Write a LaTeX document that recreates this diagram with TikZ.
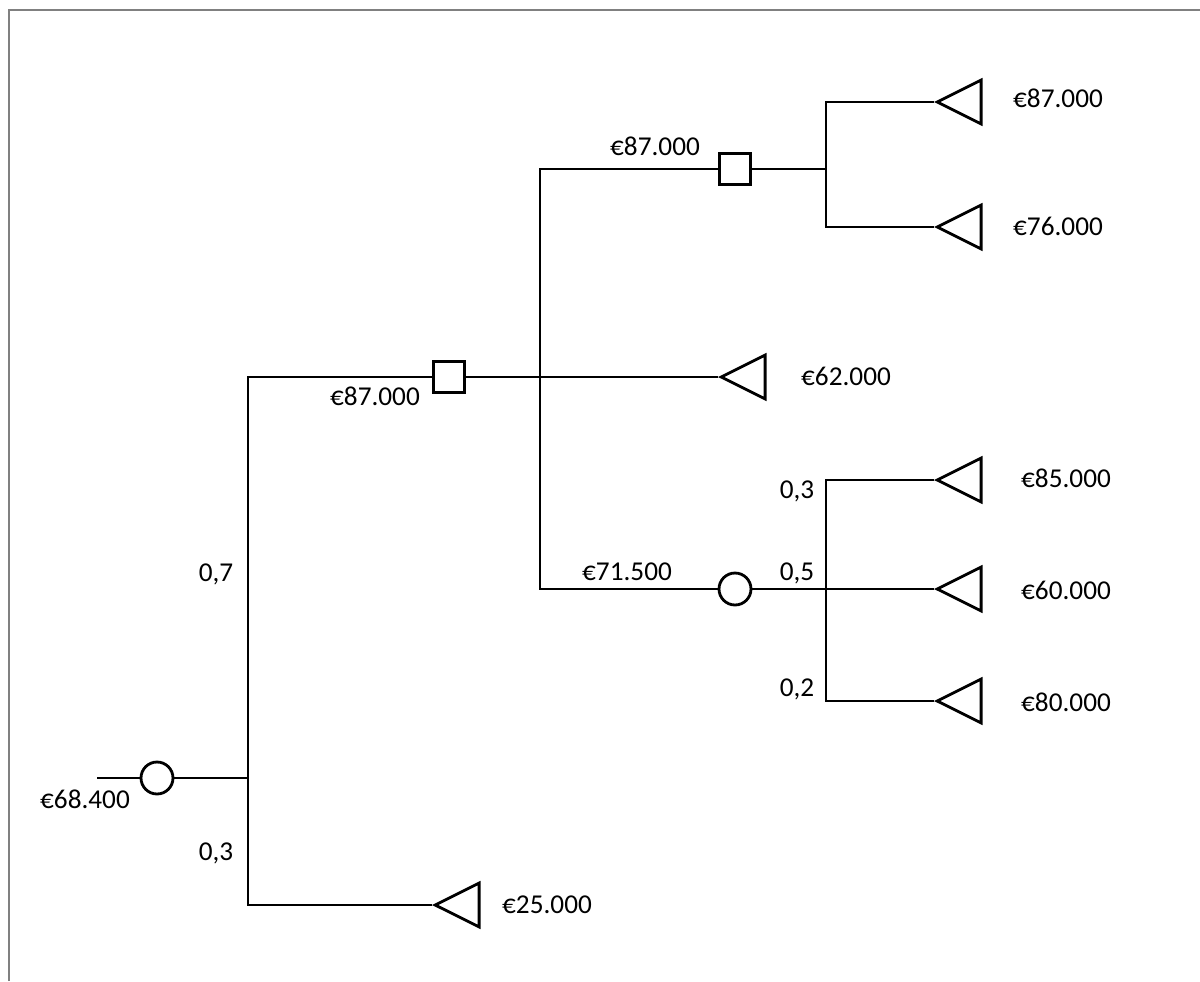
\documentclass[tikz,border=0pt]{standalone}
\usepackage{fontspec}
\setmainfont{Carlito}
\usetikzlibrary{shapes.geometric}

\begin{document}
\begin{tikzpicture}[x=0.02cm, y=-0.02cm,
        line width=1.6pt,
        chance/.style={draw, circle, minimum size=0.64cm, inner sep=0pt, fill=white},
        decision/.style={draw, rectangle, minimum size=0.62cm, inner sep=0pt, fill=white},
        payoff/.style={draw, isosceles triangle, isosceles triangle apex angle=53,
                      shape border rotate=180, anchor=apex, inner sep=0pt, minimum height=0.88cm},
        lbl/.style={font=\fontsize{15.5}{18}\selectfont, text height=10pt, text depth=0pt, inner sep=0pt},
      ]
        \useasboundingbox (0,0) rectangle (1200,981);
        \draw[gray, line width=1.1pt] (9,981) -- (9,10) -- (1200,10);

        % knots
        \coordinate (in) at (97,778);
        \node[chance] (c1) at (157,778) {};
        \coordinate (j1) at (248,778);
        \coordinate (j1b) at (248,905);
        \node[decision] (d1) at (449,377) {};
        \coordinate (j2b) at (540,589);
        \node[payoff] (t62) at (718,377) {};
        \node[decision] (d2) at (735,169) {};
        \coordinate (j3) at (826,169);
        \coordinate (j3b) at (826,227);
        \node[payoff] (t87) at (934,102) {};
        \node[payoff] (t76) at (934,227) {};
        \node[chance] (c2) at (735,589) {};
        \coordinate (j4b) at (826,701);
        \node[payoff] (t85) at (934,480) {};
        \node[payoff] (t60) at (934,589) {};
        \node[payoff] (t80) at (934,701) {};
        \node[payoff] (t25) at (432,905) {};

        % branches
        \draw (in) -- (c1);
        \draw (c1) -- (j1);
        \draw (d1) -| (j1b) -- (t25);
        \draw (d1) -- (t62);
        \draw (d2) -| (j2b) -- (c2);
        \draw (d2) -- (j3);
        \draw (t87) -| (j3b) -- (t76);
        \draw (c2) -- (t60);
        \draw (t85) -| (j4b) -- (t80);

        % values
        \node[lbl] (v1) at (1058,99) {€87.000};
        \node[lbl] (v2) at (1058,227) {€76.000};
        \node[lbl] (v3) at (846,377) {€62.000};
        \node[lbl] (v4) at (1066,479) {€85.000};
        \node[lbl] (v5) at (1066,591) {€60.000};
        \node[lbl] (v6) at (1066,703) {€80.000};
        \node[lbl] (v7) at (547,905) {€25.000};
        \node[lbl] (e1) at (655,147) {€87.000};
        \node[lbl] (e2) at (375,397) {€87.000};
        \node[lbl] (e3) at (627,572) {€71.500};
        \node[lbl] (e4) at (85,800) {€68.400};
        \node[lbl] (p1) at (216,573) {0,7};
        \node[lbl] (p2) at (216,852) {0,3};
        \node[lbl] (p3) at (797,490) {0,3};
        \node[lbl] (p4) at (797,572) {0,5};
        \node[lbl] (p5) at (797,688) {0,2};
      \end{tikzpicture}
\end{document}
